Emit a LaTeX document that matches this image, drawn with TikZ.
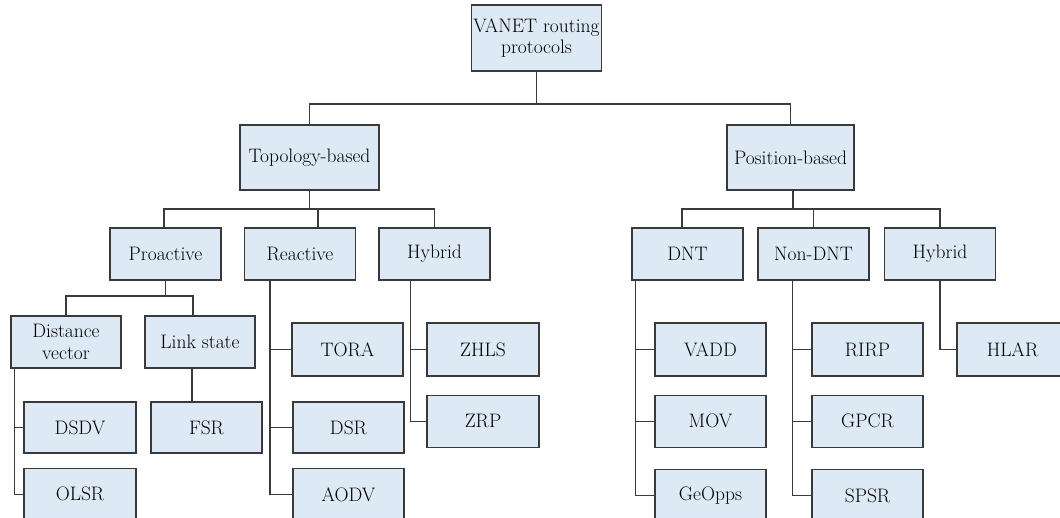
\documentclass[tikz,border=0pt]{standalone}
\usepackage{tikz}
\usetikzlibrary{positioning}
\definecolor{boxfill}{RGB}{221,233,244}
\definecolor{linegray}{RGB}{58,58,58}

\begin{document}
\begin{tikzpicture}[x=1pt, y=-1pt,
    box/.style={draw=linegray, fill=boxfill, line width=1.3pt, minimum width=111pt, minimum height=52pt,
        inner sep=2pt, align=center, font=\rmfamily\fontsize{19.5}{21.5}\selectfont},
    link/.style={draw=linegray, line width=1.3pt}]
    \useasboundingbox (0,0) rectangle (1060,517);
    \clip (0,0) rectangle (1060,517);

    \node[box, minimum width=127pt, minimum height=66pt] (root) at (536.5,38) {VANET routing\\protocols};
    \node[box, minimum width=139pt, minimum height=65pt] (topo) at (309.5,157.5) {Topology-based};
    \node[box, minimum width=127pt, minimum height=65pt] (pos) at (790.5,157.5) {Position-based};

    \node[box] (proactive) at (165.5,254) {Proactive};
    \node[box] (reactive) at (300,254) {Reactive};
    \node[box] (hybA) at (434.5,254) {Hybrid};
    \node[box] (dnt) at (687.5,254) {DNT};
    \node[box] (nondnt) at (813.5,254) {Non-DNT};
    \node[box] (hybB) at (940,254) {Hybrid};

    \node[box, minimum width=110pt] (dv) at (66,342) {Distance\\vector};
    \node[box, minimum width=110pt] (ls) at (200,342) {Link state};

    \node[box, minimum width=112pt, minimum height=51pt] (dsdv) at (80,427.5) {DSDV};
    \node[box, minimum width=112pt, below=14pt of dsdv] (olsr) {OLSR};
    \node[box, minimum height=51pt] (fsr) at (206.5,427.5) {FSR};

    \node[box, minimum height=53pt] (tora) at (347.5,349.5) {TORA};
    \node[box, minimum height=51pt] (dsr) at (348.5,427.5) {DSR};
    \node[box, below=14pt of dsr] (aodv) {AODV};

    \node[box, minimum width=112pt, minimum height=53pt] (zhls) at (483,349.5) {ZHLS};
    \node[box, minimum width=112pt, below=18pt of zhls] (zrp) {ZRP};

    \node[box, minimum height=53pt] (vadd) at (710.5,349.5) {VADD};
    \node[box, below=18pt of vadd] (mov) {MOV};
    \node[box, below=21pt of mov] (geopps) {GeOpps};

    \node[box, minimum height=53pt] (rirp) at (867.5,349.5) {RIRP};
    \node[box, below=18pt of rirp] (gpcr) {GPCR};
    \node[box, below=21pt of gpcr] (spsr) {SPSR};

    \node[box, minimum height=53pt] (hlar) at (1012.5,349.5) {HLAR};

    \coordinate (rootbus) at (0,104);
    \coordinate (midbus) at (0,209);
    \coordinate (probus) at (0,296);

    \draw[link] (root.south) -- (root.south |- rootbus);
    \draw[link] (topo.north) |- (pos.north |- rootbus) -- (pos.north);

    \draw[link] (topo.south) -- (topo.south |- midbus);
    \draw[link] ([xshift=-1.5pt]proactive.north) |- (hybA.north |- midbus) -- (hybA.north);
    \draw[link] ([xshift=18pt]reactive.north) -- ([xshift=18pt]reactive.north |- midbus);

    \draw[link] ([xshift=2.5pt]pos.south) -- ([xshift=2.5pt]pos.south |- midbus);
    \draw[link] ([xshift=-5.5pt]dnt.north) |- (hybB.north |- midbus) -- (hybB.north);
    \draw[link] (nondnt.north) -- (nondnt.north |- midbus);

    \draw[link] (proactive.south) -- (proactive.south |- probus);
    \draw[link] (dv.north) |- ([xshift=-7pt]ls.north |- probus) -- ([xshift=-7pt]ls.north);
    \draw[link] ([xshift=-8pt]ls.south) -- ([xshift=-8pt]ls.south |- fsr.north);

    \coordinate (dvstem) at ([xshift=4pt]dv.south west);
    \coordinate (reastem) at ([xshift=26pt]reactive.south west);
    \coordinate (hybAstem) at ([xshift=32pt]hybA.south west);
    \coordinate (dntstem) at ([xshift=4pt]dnt.south west);
    \coordinate (nondntstem) at ([xshift=35pt]nondnt.south west);

    \foreach \leaf in {dsdv, olsr}
        \draw[link] (dvstem) |- (\leaf.west);
    \foreach \leaf in {tora, dsr, aodv}
        \draw[link] (reastem) |- (\leaf.west);
    \foreach \leaf in {zhls, zrp}
        \draw[link] (hybAstem) |- (\leaf.west);
    \foreach \leaf in {vadd, mov, geopps}
        \draw[link] (dntstem) |- (\leaf.west);
    \foreach \leaf in {rirp, gpcr, spsr}
        \draw[link] (nondntstem) |- (\leaf.west);
    \draw[link] (hybB.south) |- (hlar.west);
\end{tikzpicture}
\end{document}
